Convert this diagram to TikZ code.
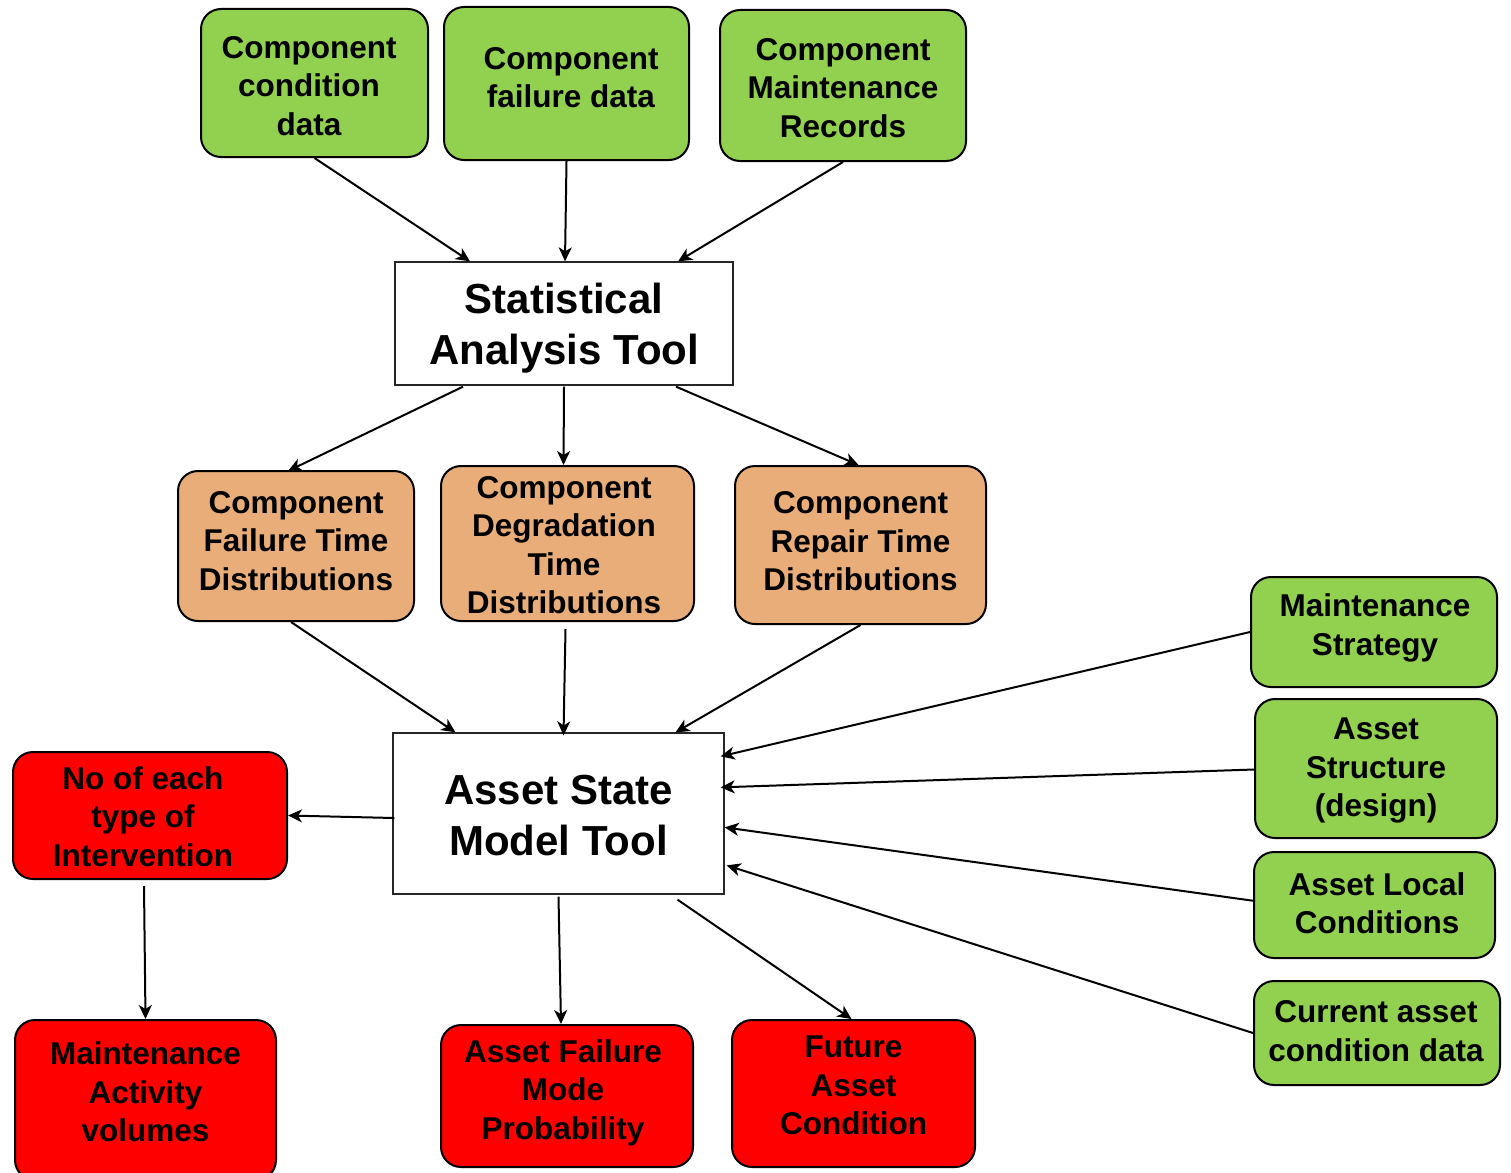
\documentclass[tikz,border=0pt]{standalone}
\usepackage{fontspec}
\setmainfont{Liberation Sans}
\usetikzlibrary{arrows.meta,calc}

\definecolor{inputgreen}{HTML}{92D050}
\definecolor{distorange}{HTML}{E8AD78}
\definecolor{outred}{HTML}{FF0000}

\tikzset{
  every node/.style={align=center, inner sep=0pt},
  txt/.style={font=\bfseries\fontsize{31.5}{38.5}\selectfont},
  bigtxt/.style={font=\bfseries\fontsize{42}{51}\selectfont},
  roundbox/.style={draw=black, line width=2pt, rounded corners=20pt},
  greenbox/.style={roundbox, fill=inputgreen},
  orangebox/.style={roundbox, fill=distorange},
  redbox/.style={roundbox, fill=outred},
  toolbox/.style={draw=black!85, line width=1.3pt, fill=white},
  flow/.style={line width=2pt, -{Stealth[length=14pt,width=13pt,inset=4pt]}},
}

\begin{document}
\begin{tikzpicture}[x=1pt,y=-1pt]
\useasboundingbox (0,0) rectangle (1511,1172);
\clip (0,0) rectangle (1511,1172);

% data sources
\node[greenbox, minimum width=227pt, minimum height=148pt] (cond) at (314.5,83) {};
\node[txt] (cond-t) at (309,86) {Component\\condition\\data};
\node[greenbox, minimum width=245pt, minimum height=153pt] (fail) at (566.5,83.5) {};
\node[txt] (fail-t) at (571,77.5) {Component\\failure data};
\node[greenbox, minimum width=246pt, minimum height=151pt] (maint) at (843,85.5) {};
\node[txt] (maint-t) at (843,88) {Component\\Maintenance\\Records};

% statistical tool
\node[toolbox, minimum width=338pt, minimum height=123pt] (stat) at (564,323.5) {};
\node[bigtxt] (stat-t) at (564,328.5) {Statistical\\Analysis Tool};

% distributions
\node[orangebox, minimum width=236pt, minimum height=150pt] (ftd) at (296,546) {};
\node[txt] (ftd-t) at (296,541) {Component\\Failure Time\\Distributions};
\node[orangebox, minimum width=253pt, minimum height=155pt] (dtd) at (567.5,543.5) {};
\node[txt] (dtd-t) at (564,545) {Component\\Degradation\\Time\\Distributions};
\node[orangebox, minimum width=251pt, minimum height=158pt] (rtd) at (860.5,545) {};
\node[txt] (rtd-t) at (860.5,541.5) {Component\\Repair Time\\Distributions};

% asset state model
\node[toolbox, minimum width=331pt, minimum height=161pt] (asm) at (558.5,813.5) {};
\node[bigtxt] (asm-t) at (558.5,815.5) {Asset State\\Model Tool};

% asset inputs
\node[greenbox, minimum width=246pt, minimum height=110pt] (strat) at (1374,632) {};
\node[txt] (strat-t) at (1375,628) {Maintenance\\Strategy};
\node[greenbox, minimum width=242pt, minimum height=139pt] (struct) at (1376,768.5) {};
\node[txt] (struct-t) at (1376,770.5) {Asset\\Structure\\(design)};
\node[greenbox, minimum width=241pt, minimum height=106pt] (local) at (1374.5,905) {};
\node[txt] (local-t) at (1377,903) {Asset Local\\Conditions};
\node[greenbox, minimum width=246pt, minimum height=104pt] (current) at (1377,1033) {};
\node[txt] (current-t) at (1376,1031) {Current asset\\condition data};

% outputs
\node[redbox, minimum width=274pt, minimum height=127pt] (interv) at (150,815.5) {};
\node[txt] (interv-t) at (143,816.5) {No of each\\type of\\Intervention};
\node[redbox, minimum width=261pt, minimum height=160pt] (volumes) at (145.5,1100) {};
\node[txt] (volumes-t) at (145.5,1092) {Maintenance\\Activity\\volumes};
\node[redbox, minimum width=252pt, minimum height=142pt] (fmp) at (567,1096) {};
\node[txt] (fmp-t) at (563,1092.5) {Asset Failure\\Mode\\Probability};
\node[redbox, minimum width=243pt, minimum height=147pt] (future) at (853.5,1093.5) {};
\node[txt] (future-t) at (853.5,1085.5) {Future\\Asset\\Condition};

% connectors
\draw[flow] (cond.south) -- ($(stat.north)+(-94,0)$);
\draw[flow] (fail.south) -- ($(stat.north)+(1,0)$);
\draw[flow] (maint.south) -- ($(stat.north)+(114,0)$);

\draw[flow] ($(stat.south)+(-101,1)$) -- ($(ftd.north)+(-8,1)$);
\draw[flow] ($(stat.south)+(0,1)$) -- ($(dtd.north)+(-4,0)$);
\draw[flow] ($(stat.south)+(112,1)$) -- ($(rtd.north)+(-2,0)$);

\draw[flow] ($(ftd.south)+(-5,0)$) -- ($(asm.north)+(-103,0)$);
\draw[flow] ($(dtd.south)+(-2,7)$) -- ($(asm.north)+(5,3)$);
\draw[flow] (rtd.south) -- ($(asm.north)+(117,0)$);

\draw[flow] (strat.west) -- ($(asm.north east)+(-4,24)$);
\draw[flow] ($(struct.west)+(0,1)$) -- ($(asm.north east)+(-4,55)$);
\draw[flow] ($(local.west)+(2,-4)$) -- ($(asm.north east)+(0,95)$);
\draw[flow] (current.west) -- ($(asm.north east)+(2,133)$);

\draw[flow] ($(asm.west)+(2,4.5)$) -- (interv.east);
\draw[flow] ($(interv.south)+(-6,6)$) -- (volumes.north);
\draw[flow] ($(asm.south)+(0,2)$) -- ($(fmp.north)+(-6,0)$);
\draw[flow] ($(asm.south)+(119,5)$) -- ($(future.north)+(-2,0)$);
\end{tikzpicture}
\end{document}
